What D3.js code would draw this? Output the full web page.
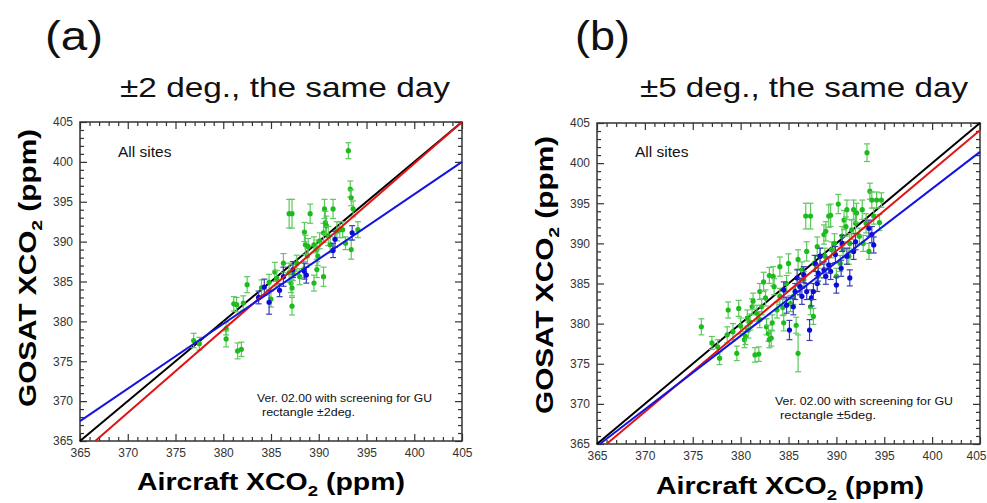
<!DOCTYPE html>
<html>
<head>
<meta charset="utf-8">
<script src="https://cdn.jsdelivr.net/npm/d3@7"></script>
<style>
  body { margin: 0; background: #fff; }
  svg { display: block; font-family: "Liberation Sans", Arial, sans-serif; }
</style>
</head>
<body>
<svg id="chart" width="987" height="503"></svg>
<script>
// axis range and ticks (ppm)
const domain = [365, 405];
const majorTicks = [365, 370, 375, 380, 385, 390, 395, 400, 405];
const minorTicks = d3.range(365, 406, 1).filter(v => v % 5 !== 0);

// fitted lines, [x, y] end points
const oneToOne = [[365, 365], [405, 405]];
const redFitA = [[366.6, 365], [405, 405]];
const blueFitA = [[365, 367.5], [405, 400]];
const redFitB = [[366.0, 365], [405, 404.1]];
const blueFitB = [[365.3, 365], [405, 401.4]];

// points [aircraft, gosat, error]
const greenA = [
  [376.9,377.6,0.9],[377.5,377.2,0.8],[380.3,379.1,0.8],[380.3,377.8,1.0],[381.5,376.3,1.0],
  [381.9,376.5,0.9],[381.1,382.2,0.9],[381.4,382.1,0.9],[382.1,382.3,0.9],[382.5,384.6,1.0],
  [384.0,384.2,1.0],[384.8,384.9,1.0],[385.0,382.8,1.0],[385.4,386.2,1.2],[385.6,385.4,1.0],
  [386.3,387.3,1.2],[386.9,393.5,1.8],[387.2,393.5,1.8],[386.9,386.1,1.2],[387.1,384.8,1.2],
  [387.2,384.2,1.0],[387.2,381.9,1.1],[387.3,386.1,1.0],[387.7,387.3,1.0],[388.0,385.6,1.0],
  [388.4,386.5,1.0],[388.5,391.2,1.2],[388.6,389.6,1.2],[388.8,388.2,1.0],[389.1,393.5,1.2],
  [388.9,389.4,1.0],[389.5,384.8,1.0],[389.5,389.6,1.0],[389.8,389.0,1.2],[389.9,388.2,1.2],
  [390.1,390.1,1.0],[390.5,391.1,1.2],[390.6,394.1,1.2],[390.7,392.4,1.4],[390.8,392.0,1.2],
  [390.5,385.6,1.2],[391.0,390.7,1.2],[391.2,389.6,1.0],[391.5,394.1,1.2],[391.9,391.3,1.2],
  [392.2,391.5,1.0],[392.5,391.5,1.0],[392.8,389.8,0.8],[393.1,401.4,1.0],[393.3,396.6,1.0],
  [393.4,395.5,1.0],[393.4,389.0,1.2],[393.6,394.1,1.0],[394.1,391.5,1.0],[389.8,386.5,1.0]
];
const blueA = [
  [383.7,383.0,0.8],[384.3,384.3,1.0],[384.8,382.4,1.5],[385.9,383.9,0.8],[386.3,385.6,1.2],
  [387.3,386.5,1.0],[388.5,386.3,1.0],[388.7,385.8,1.0],[391.5,388.9,0.9],[391.7,390.3,1.0],
  [393.5,391.1,0.9]
];
const greenB = [
  [375.9,379.6,1.0],[377.0,377.6,0.8],[377.6,377.1,0.9],[377.8,375.7,0.8],[378.6,378.6,1.0],
  [378.7,381.7,1.0],[379.6,376.3,0.9],[379.8,381.9,1.0],[380.0,379.7,1.0],[380.4,378.0,1.0],
  [380.5,378.4,1.0],[380.7,380.7,1.0],[380.8,379.2,1.0],[381.2,382.1,1.0],[381.3,382.8,1.0],
  [381.5,376.1,0.9],[381.9,376.2,0.9],[381.7,381.3,1.0],[382.0,384.0,1.0],[382.2,382.1,1.0],
  [382.4,385.2,1.2],[382.6,383.2,1.0],[382.7,379.6,1.0],[382.9,378.8,1.0],[383.0,378.0,1.0],
  [383.2,378.2,1.0],[383.3,380.1,1.0],[383.4,385.9,1.2],[383.5,384.6,1.0],[383.8,381.7,1.0],
  [384.1,383.4,1.0],[384.5,380.1,1.0],[384.8,385.0,1.0],[385.2,382.5,1.0],[385.5,383.4,1.0],
  [385.8,379.8,1.0],[386.0,376.3,2.3],[386.0,388.0,1.2],[386.2,384.6,1.0],[386.4,386.7,1.0],
  [386.6,385.5,1.0],[386.8,393.4,1.6],[387.3,393.4,1.6],[387.3,382.1,1.0],[387.6,380.9,1.0],
  [387.7,387.5,1.0],[388.0,389.6,1.2],[388.1,385.9,1.0],[388.3,388.4,1.0],[388.7,391.1,1.2],
  [388.8,388.4,1.0],[389.2,393.4,1.4],[389.4,393.5,1.4],[389.5,389.2,1.0],[389.8,390.0,1.2],
  [390.0,385.9,1.0],[390.2,394.9,1.2],[390.4,387.5,1.0],[390.6,390.9,1.2],[390.7,389.2,1.0],
  [390.8,392.9,1.2],[391.0,392.1,1.2],[391.1,394.2,1.2],[391.3,388.4,1.0],[391.4,390.0,1.2],
  [391.6,391.7,1.2],[391.8,394.2,1.2],[392.0,392.5,1.2],[392.1,393.8,1.2],[392.4,390.9,1.0],
  [392.7,394.2,1.2],[392.8,390.0,1.0],[393.1,392.5,1.2],[393.2,401.3,1.1],[393.4,389.0,1.0],
  [393.5,396.5,1.0],[393.7,395.4,1.0],[393.9,393.4,1.0],[394.2,395.4,1.0],[394.5,392.6,1.0],
  [394.7,395.4,0.9],[384.1,387.1,1.2],[383.0,386.0,1.0],[381.0,380.2,1.0],[379.2,379.0,1.0],
  [385.0,387.5,1.2],[386.9,389.0,1.2],[388.9,391.5,1.2],[384.4,382.0,1.0],[382.0,380.5,1.0]
];
const blueB = [
  [384.5,384.2,1.0],[384.8,382.3,1.0],[385.1,379.2,1.2],[385.5,382.1,1.0],[385.7,384.0,1.0],
  [385.9,385.7,1.0],[386.2,384.6,1.0],[386.4,383.4,1.0],[386.6,386.1,1.0],[386.9,384.0,1.0],
  [387.2,379.2,1.3],[387.4,383.2,1.0],[387.8,387.5,1.0],[388.0,385.0,1.0],[388.1,386.3,1.0],
  [388.3,388.4,1.0],[388.7,386.7,1.0],[388.9,385.9,1.0],[389.4,386.5,1.0],[389.9,388.6,1.0],
  [390.0,384.8,1.0],[390.5,386.9,1.0],[390.6,390.0,1.0],[391.1,388.4,1.0],[391.4,385.7,1.0],
  [391.8,389.0,1.0],[392.0,390.2,1.0],[393.4,391.9,1.0],[393.7,391.1,1.0],[393.9,389.8,1.0],
  [389.2,387.3,1.0],[387.6,384.0,1.0]
];

const panels = [
  { label: "(a)", title: "\u00b12 deg., the same day", note2: "rectangle \u00b12deg.",
    left: 80, right: 462, top: 122, bottom: 441,
    green: greenA, blue: blueA, red: redFitA, blueFit: blueFitA,
    labelX: 45, labelW: 58, titleX: 120, titleW: 330,
    yTitleX: 36, yTitleY: 268, xTitleX: 271, xTitleY: 490,
    noteX: 257, noteY: 402, noteW: 175, note2W: 93 },
  { label: "(b)", title: "\u00b15 deg., the same day", note2: "rectangle \u00b15deg.",
    left: 597, right: 980, top: 123, bottom: 444,
    green: greenB, blue: blueB, red: redFitB, blueFit: blueFitB,
    labelX: 575, labelW: 55, titleX: 640, titleW: 328,
    yTitleX: 553, yTitleY: 275, xTitleX: 790, xTitleY: 494,
    noteX: 775, noteY: 405, noteW: 178, note2W: 96 }
];

const svg = d3.select("#chart");

panels.forEach(p => {
  const x = d3.scaleLinear().domain(domain).range([p.left, p.right]);
  const y = d3.scaleLinear().domain(domain).range([p.bottom, p.top]);
  const w = p.right - p.left, h = p.bottom - p.top;
  const g = svg.append("g");

  // headings
  g.append("text").attr("x", p.labelX).attr("y", 50)
    .attr("textLength", p.labelW).attr("lengthAdjust", "spacingAndGlyphs")
    .style("font-size", "40px").attr("fill", "#111").text(p.label);
  g.append("text").attr("x", p.titleX).attr("y", 97)
    .attr("textLength", p.titleW).attr("lengthAdjust", "spacingAndGlyphs")
    .style("font-size", "28px").attr("fill", "#111").text(p.title);

  // ticks, inward on all four sides
  const axes = [
    [d3.axisBottom(x), `translate(0,${p.bottom})`, true],
    [d3.axisTop(x), `translate(0,${p.top})`, false],
    [d3.axisLeft(y), `translate(${p.left},0)`, true],
    [d3.axisRight(y), `translate(${p.right},0)`, false]
  ];
  axes.forEach(([ax, tr, labels], i) => {
    const major = g.append("g").attr("transform", tr)
      .call(ax.tickValues(majorTicks).tickSize(-7).tickSizeOuter(0).tickPadding(labels ? 7 : 0)
        .tickFormat(labels ? d3.format("d") : ""));
    major.select(".domain").remove();
    major.selectAll("line").attr("stroke", "#333").attr("stroke-width", 1.2);
    major.selectAll("text").style("font-size", "12px").attr("fill", "#333")
      .style("font-family", "'Liberation Sans', Arial, sans-serif");
    // the last x label sits at the page edge; keep it inside
    if (i === 0) {
      major.selectAll(".tick text").filter(d => x(d) + 11 > 986)
        .attr("text-anchor", "end").attr("x", d => 986 - x(d));
    }
    const minor = g.append("g").attr("transform", tr)
      .call(ax.tickValues(minorTicks).tickSize(-4).tickSizeOuter(0).tickFormat(""));
    minor.select(".domain").remove();
    minor.selectAll("line").attr("stroke", "#333").attr("stroke-width", 1.2);
  });
  g.append("rect").attr("x", p.left).attr("y", p.top).attr("width", w).attr("height", h)
    .attr("fill", "none").attr("stroke", "#333").attr("stroke-width", 1.5);

  // 1:1 line
  const line = d3.line().x(d => x(d[0])).y(d => y(d[1]));
  g.append("path").datum(oneToOne).attr("d", line)
    .attr("stroke", "#000").attr("stroke-width", 2).attr("fill", "none");

  // error bars and points
  const drawPoints = (data, barColor, dotColor) => {
    const pts = g.append("g").selectAll("g").data(data).join("g");
    pts.append("line")
      .attr("x1", d => x(d[0])).attr("x2", d => x(d[0]))
      .attr("y1", d => y(d[1] - d[2])).attr("y2", d => y(d[1] + d[2]))
      .attr("stroke", barColor).attr("stroke-width", 1.2);
    [-1, 1].forEach(s => {
      pts.append("line")
        .attr("x1", d => x(d[0]) - 3).attr("x2", d => x(d[0]) + 3)
        .attr("y1", d => y(d[1] + s * d[2])).attr("y2", d => y(d[1] + s * d[2]))
        .attr("stroke", barColor).attr("stroke-width", 1.2);
    });
    pts.append("circle").attr("cx", d => x(d[0])).attr("cy", d => y(d[1]))
      .attr("r", 2.6).attr("fill", dotColor);
  };
  drawPoints(p.green, "#5cc95c", "#1cbc1c");
  drawPoints(p.blue, "#3c3cbc", "#0b0bd6");

  // fitted lines
  g.append("path").datum(p.red).attr("d", line)
    .attr("stroke", "#e01414").attr("stroke-width", 2).attr("fill", "none");
  g.append("path").datum(p.blueFit).attr("d", line)
    .attr("stroke", "#1414e0").attr("stroke-width", 2).attr("fill", "none");

  // annotations
  g.append("text").attr("x", p.left + 38).attr("y", 157)
    .style("font-size", "15.5px").attr("fill", "#111").text("All sites");
  g.append("text").attr("x", p.noteX).attr("y", p.noteY)
    .attr("textLength", p.noteW).attr("lengthAdjust", "spacingAndGlyphs")
    .style("font-size", "11.5px").attr("fill", "#111").text("Ver. 02.00 with screening for GU");
  g.append("text").attr("x", p.noteX + 5).attr("y", p.noteY + 14)
    .attr("textLength", p.note2W).attr("lengthAdjust", "spacingAndGlyphs")
    .style("font-size", "11.5px").attr("fill", "#111").text(p.note2);

  // axis titles
  const yt = g.append("text").attr("transform", `translate(${p.yTitleX},${p.yTitleY}) rotate(-90)`)
    .attr("text-anchor", "middle").attr("textLength", 278).attr("lengthAdjust", "spacingAndGlyphs")
    .style("font-size", "23px").style("font-weight", "bold").attr("fill", "#000");
  yt.append("tspan").text("GOSAT XCO");
  yt.append("tspan").attr("dy", 6).style("font-size", "15px").text("2");
  yt.append("tspan").attr("dy", -6).text(" (ppm)");

  const xt = g.append("text").attr("x", p.xTitleX).attr("y", p.xTitleY)
    .attr("text-anchor", "middle").attr("textLength", 268).attr("lengthAdjust", "spacingAndGlyphs")
    .style("font-size", "23px").style("font-weight", "bold").attr("fill", "#000");
  xt.append("tspan").text("Aircraft XCO");
  xt.append("tspan").attr("dy", 6).style("font-size", "15px").text("2");
  xt.append("tspan").attr("dy", -6).text(" (ppm)");
});
</script>
</body>
</html>
